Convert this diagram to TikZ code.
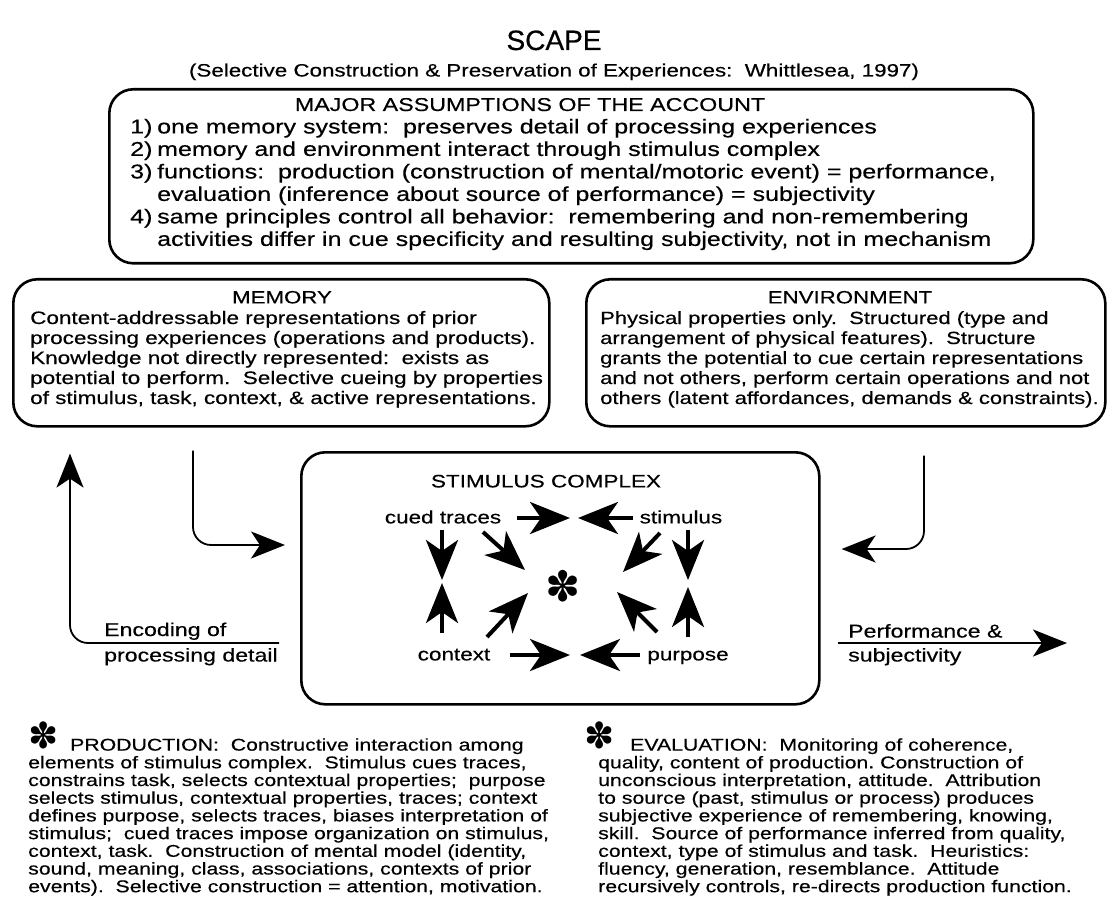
\documentclass[tikz,border=0pt]{standalone}
\usepackage{fontspec}
\setmainfont{Liberation Sans}[FakeStretch=1.25,FakeBold=0.4]
\newfontfamily\titlefont{Liberation Sans}[FakeBold=0.5]
\newfontfamily\symfont{DejaVu Sans}
\usetikzlibrary{arrows.meta}
\newcommand{\fsz}[2]{\fontsize{#1}{#2}\selectfont}
\newcommand{\bigstar}{\smash{\raisebox{2pt}{\symfont\fsz{36}{36}✽}}}
\begin{document}
\frenchspacing
\begin{tikzpicture}[x=1pt,y=-1pt,
  box/.style={draw, line width=2.6pt, rounded corners=24pt, inner sep=0pt, anchor=north west},
  conn/.style={line width=1.8pt, rounded corners=18pt, -{Stealth[length=34pt,width=27pt,inset=9pt]}},
  inarr/.style={line width=4pt, -{Stealth[length=40pt,width=32pt,inset=11pt]}},
  txt/.style={inner sep=0pt, anchor=base west},
  ctr/.style={inner sep=0pt, anchor=base},
]
\fill[white] (0,0) rectangle (1108,909);
\useasboundingbox (0,0) rectangle (1108,909);

% titles
\node[ctr] (title) at (554,50) {\titlefont\fsz{28}{30}SCAPE};
\node[ctr] (subtitle) at (554,76.5) {\fsz{17.9}{20}(Selective Construction \& Preservation of Experiences:\ \ Whittlesea, 1997)};

% boxes
\node[box, minimum width=924pt, minimum height=174pt] (assum) at (108,88) {};
\node[box, minimum width=536pt, minimum height=147pt] (mem) at (12,278) {};
\node[box, minimum width=519pt, minimum height=147pt] (env) at (585,278) {};
\node[box, minimum width=518pt, minimum height=252pt] (stim) at (300,451) {};

% assumptions
\node[ctr] (asmhead) at (530,111) {\fsz{18.6}{22.5}MAJOR ASSUMPTIONS OF THE ACCOUNT};
\node[txt] (asmlist) at (130,133.4) {\fsz{20}{22.5}\begin{tabular}[t]{@{}p{27pt}@{}l@{}}
1) & one memory system:\ \ preserves detail of processing experiences\\
2) & memory and environment interact through stimulus complex\\
3) & functions:\ \ production (construction of mental/motoric event) = performance,\\
 & evaluation (inference about source of performance) = subjectivity\\
4) & same principles control all behavior:\ \ remembering and non-remembering\\
 & activities differ in cue specificity and resulting subjectivity, not in mechanism
\end{tabular}};

% memory
\node[ctr] (memhead) at (282,303.4) {\fsz{17.8}{20}MEMORY};
\node[txt] (memtext) at (30,324) {\fsz{18}{20}\begin{tabular}[t]{@{}l@{}}
Content-addressable representations of prior\\
processing experiences (operations and products).\\
Knowledge not directly represented:\ \ exists as\\
potential to perform.\ \ Selective cueing by properties\\
of stimulus, task, context, \& active representations.
\end{tabular}};

% environment
\node[ctr] (envhead) at (850,303.4) {\fsz{17.8}{20}ENVIRONMENT};
\node[txt] (envtext) at (600,324) {\fsz{17.6}{20}\begin{tabular}[t]{@{}l@{}}
Physical properties only.\ \ Structured (type and\\
arrangement of physical features).\ \ Structure\\
grants the potential to cue certain representations\\
and not others, perform certain operations and not\\
others (latent affordances, demands \& constraints).
\end{tabular}};

% stimulus complex
\node[ctr] (stimhead) at (546,487.4) {\fsz{18}{20}STIMULUS COMPLEX};
\node[ctr] (ct) at (443,523.4) {\fsz{18}{20}cued traces};
\node[ctr] (st) at (681,523.4) {\fsz{18}{20}stimulus};
\node[ctr] (cx) at (454,660.4) {\fsz{18}{20}context};
\node[ctr] (pu) at (688,660.4) {\fsz{18}{20}purpose};
\node[inner sep=0pt, font=\symfont\fsz{42}{42}] (core) at (563,586) {✽};

% inner arrows
\coordinate (a1) at (517,518); \coordinate (b1) at (570,518);
\coordinate (a2) at (633,518); \coordinate (b2) at (578,518);
\coordinate (a3) at (442,530); \coordinate (b3) at (442,580);
\coordinate (a4) at (442,633); \coordinate (b4) at (442,583);
\coordinate (a5) at (483,532); \coordinate (b5) at (525,570);
\coordinate (a6) at (487,637); \coordinate (b6) at (528,593);
\coordinate (a7) at (660,533); \coordinate (b7) at (623,572);
\coordinate (a8) at (688,530); \coordinate (b8) at (688,580);
\coordinate (a9) at (688,637); \coordinate (b9) at (688,587);
\coordinate (a10) at (657,632); \coordinate (b10) at (617,592);
\coordinate (a11) at (510,655); \coordinate (b11) at (570,655);
\coordinate (a12) at (640,655); \coordinate (b12) at (580,655);
\foreach \i in {1,...,12} {\draw[inarr] (a\i) -- (b\i);}

% main connectors
\coordinate (xM) at (193,0); \coordinate (yM) at (0,545);
\coordinate (xE) at (924,0); \coordinate (yE) at (0,549);
\coordinate (xL) at (70,0);  \coordinate (yL) at (0,643);
\coordinate (pEnd) at (1067,643);
\draw[conn, shorten <=23pt, shorten >=15pt] (mem.south -| xM) |- (stim.west |- yM);
\draw[conn, shorten <=28pt, shorten >=21pt] (env.south -| xE) |- (stim.east |- yE);
\draw[conn, shorten <=21pt, shorten >=26pt] (stim.west |- yL) -| (mem.south -| xL);
\draw[conn, shorten <=17pt] (stim.east |- yL) -- (pEnd);

\node[txt] (enc) at (104,636) {\fsz{18.5}{25.5}\begin{tabular}[t]{@{}l@{}}Encoding of\\ processing detail\end{tabular}};
\node[txt] (perf) at (848,637.5) {\fsz{18.5}{24}\begin{tabular}[t]{@{}l@{}}Performance \&\\ subjectivity\end{tabular}};

% bottom texts
\node[txt] (prod) at (28,750.6) {\fsz{17}{17.7}\begin{tabular}[t]{@{}l@{}}
\makebox[42pt][l]{\bigstar}PRODUCTION:\ \ Constructive interaction among\\
elements of stimulus complex.\ \ Stimulus cues traces,\\
constrains task, selects contextual properties;\ \ purpose\\
selects stimulus, contextual properties, traces; context\\
defines purpose, selects traces, biases interpretation of\\
stimulus;\ \ cued traces impose organization on stimulus,\\
context, task.\ \ Construction of mental model (identity,\\
sound, meaning, class, associations, contexts of prior\\
events).\ \ Selective construction = attention, motivation.
\end{tabular}};
\node[txt] (eval) at (598,750.6) {\fsz{17}{17.7}\begin{tabular}[t]{@{}l@{}}
\hspace{-14pt}\makebox[46pt][l]{\bigstar}EVALUATION:\ \ Monitoring of coherence,\\
quality, content of production. Construction of\\
unconscious interpretation, attitude.\ \ Attribution\\
to source (past, stimulus or process) produces\\
subjective experience of remembering, knowing,\\
skill.\ \ Source of performance inferred from quality,\\
context, type of stimulus and task.\ \ Heuristics:\\
fluency, generation, resemblance.\ \ Attitude\\
recursively controls, re-directs production function.
\end{tabular}};
\end{tikzpicture}
\end{document}
